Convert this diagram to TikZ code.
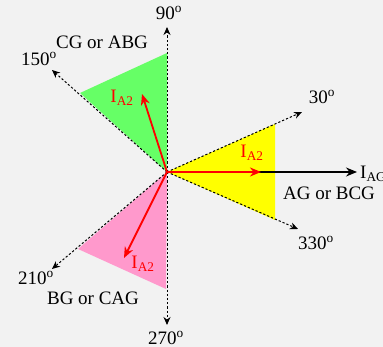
\documentclass[tikz,border=0pt]{standalone}
\usepackage{fontspec}
\setmainfont{Liberation Serif}
\usepackage{xcolor}
\usetikzlibrary{arrows.meta, positioning}

\definecolor{bggray}{RGB}{242,242,242}
\definecolor{zonegreen}{RGB}{102,255,102}
\definecolor{zoneyellow}{RGB}{255,255,0}
\definecolor{zonepink}{RGB}{255,153,204}

\begin{document}
\begin{tikzpicture}[x=1pt, y=-1pt,
  axis/.style={black, line width=1pt, dash pattern=on 2.2pt off 2pt,
               -{Stealth[length=8pt, width=7pt]}},
  phasor/.style={red, line width=1.8pt, -{Stealth[length=11pt, width=9pt]}},
  ref/.style={black, line width=1.4pt, -{Stealth[length=11pt, width=9pt]}},
  lbl/.style={font=\fontsize{19}{22}\selectfont, inner sep=0pt},
  redlbl/.style={lbl, text=red},
]
  \useasboundingbox[fill=bggray] (0,0) rectangle (383,347);

  % centre and axis ends
  \coordinate (O)    at (167,172);
  \coordinate (t90)  at (167,27);
  \coordinate (t150) at (52,70);
  \coordinate (t30)  at (302,112);
  \coordinate (t330) at (298,229);
  \coordinate (t210) at (52,269);
  \coordinate (t270) at (167,325);

  % fault zones
  \fill[zonegreen]  (O) -- (167,53) -- (80,93) -- cycle;
  \fill[zoneyellow] (O) -- (275,124) -- (275,220) -- cycle;
  \fill[zonepink]   (O) -- (78,249) -- (166,289) -- cycle;

  \draw[axis] (O) -- (t90);
  \draw[axis] (O) -- (t150);
  \draw[axis] (O) -- (t30);
  \draw[axis] (O) -- (t330);
  \draw[axis] (O) -- (t210);
  \draw[axis] (O) -- (t270);

  % phasors
  \coordinate (iag) at (357,172);
  \coordinate (ia1) at (261,172);
  \coordinate (ia2) at (142,94);
  \coordinate (ia3) at (124,258);
  \draw[ref] (O) -- (iag);
  \draw[phasor] (O) -- (ia1);
  \draw[phasor] (O) -- (ia2);
  \draw[phasor] (O) -- (ia3);

  % labels
  \node[lbl] (l90)  at (169,13)  {90\textsuperscript{o}};
  \node[lbl] (l150) at (39,59)   {150\textsuperscript{o}};
  \node[lbl] (l30)  at (322,97)  {30\textsuperscript{o}};
  \node[lbl] (l330) at (316,243) {330\textsuperscript{o}};
  \node[lbl] (l210) at (36,278)  {210\textsuperscript{o}};
  \node[lbl] (l270) at (166,338) {270\textsuperscript{o}};

  \node[lbl] (zcg) at (102,42)  {CG or ABG};
  \node[lbl] (zag) at (329,193) {AG or BCG};
  \node[lbl] (zbg) at (93,298)  {BG or CAG};

  \node[lbl, anchor=west] (niag) at (360,174) {I\textsubscript{AG}};
  \node[redlbl] (nia1) at (252,153) {I\textsubscript{A2}};
  \node[redlbl] (nia2) at (122,98)  {I\textsubscript{A2}};
  \node[redlbl] (nia3) at (143,264) {I\textsubscript{A2}};
\end{tikzpicture}
\end{document}
